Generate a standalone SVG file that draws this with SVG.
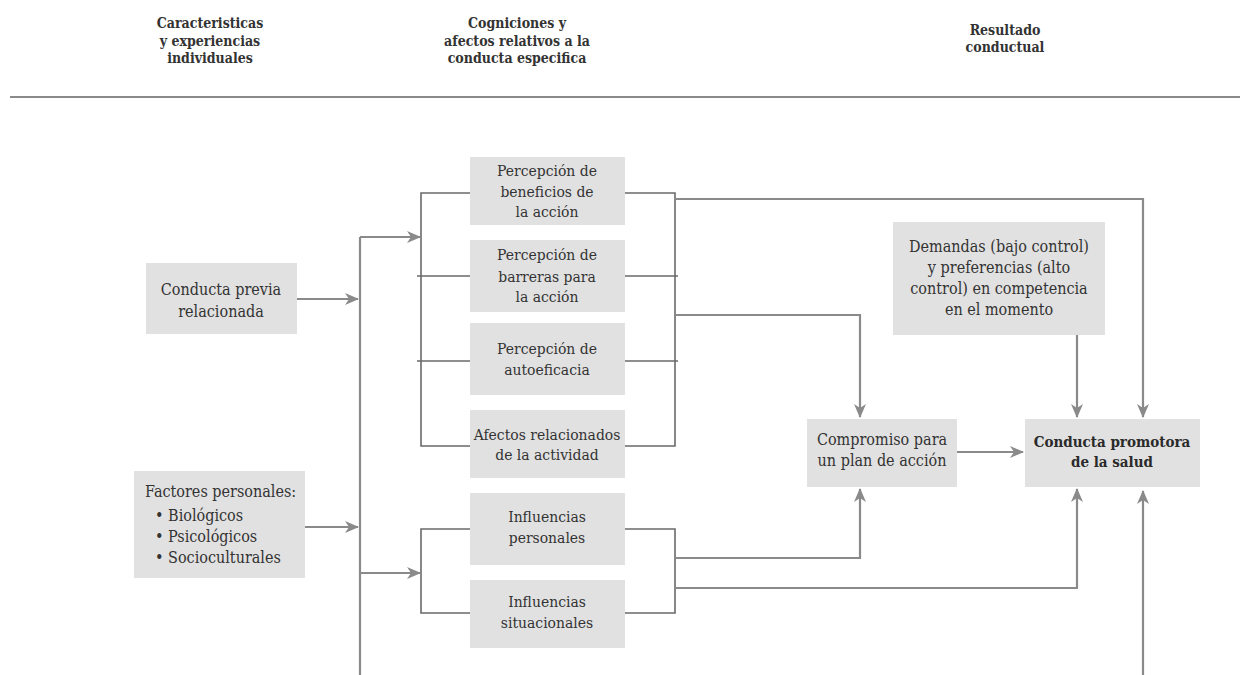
<svg xmlns="http://www.w3.org/2000/svg" width="1240" height="675" viewBox="0 0 1240 675">
<style>
.bg{fill:#ffffff}
.box{fill:#e1e1e1}
.t{font-family:'DejaVu Serif Condensed','DejaVu Serif','Liberation Serif',serif;font-stretch:condensed;font-size:16px;fill:#333333;text-anchor:middle}
.m{font-size:15.5px}
.tl{text-anchor:start}
.b{font-weight:bold;font-size:15px;fill:#2a2a2a}
.h{font-family:'DejaVu Serif Condensed','DejaVu Serif','Liberation Serif',serif;font-stretch:condensed;font-weight:bold;font-size:14px;fill:#333;text-anchor:middle}
.br{fill:none;stroke:#6a6a6a;stroke-width:1.6}
.ln{fill:none;stroke:#8a8a8a;stroke-width:2.2}
.ar{fill:none;stroke:#8a8a8a;stroke-width:2.2;marker-end:url(#ah)}
</style>
<defs>
<marker id="ah" viewBox="0 0 14 12" refX="13" refY="6" markerWidth="14" markerHeight="12" markerUnits="userSpaceOnUse" orient="auto">
<path d="M0,0 L14,6 L0,12 L4,6 z" fill="#8a8a8a"/>
</marker>
</defs>
<rect class="bg" x="0" y="0" width="1240" height="675"/>

<g id="header">
<text class="h" x="210" y="28">Caracteristicas</text>
<text class="h" x="210" y="46">y experiencias</text>
<text class="h" x="210" y="63">individuales</text>
<text class="h" x="517" y="28">Cogniciones y</text>
<text class="h" x="517" y="46">afectos relativos a la</text>
<text class="h" x="517" y="63">conducta especifica</text>
<text class="h" x="1005" y="35">Resultado</text>
<text class="h" x="1005" y="52">conductual</text>
<line x1="10" y1="97" x2="1240" y2="97" stroke="#8a8a8a" stroke-width="2"/>
</g>

<g id="connectors">
<path class="br" d="M470,193 H421 V446 H470 M417,276 H470 M417,361 H470"/>
<path class="br" d="M625,193 H675 V446 H625 M625,276 H678 M625,361 H678"/>
<path class="br" d="M470,529 H421 V613 H470"/>
<path class="br" d="M625,529 H675 V613 H625"/>
<path class="ln" d="M360,237 V675"/>
<path class="ar" d="M297,299 H358"/>
<path class="ar" d="M305,527 H358"/>
<path class="ar" d="M360,237 H420"/>
<path class="ar" d="M360,573 H420"/>
<path class="ar" d="M675,199 H1143 V417"/>
<path class="ar" d="M675,315 H860 V417"/>
<path class="ar" d="M1077,335 V417"/>
<path class="ar" d="M675,558 H860 V489"/>
<path class="ar" d="M675,588 H1077 V489"/>
<path class="ar" d="M1143,675 V491"/>
<path class="ar" d="M957,452 H1023"/>
</g>

<g id="n-conducta-previa">
<rect class="box" x="146" y="263" width="151" height="71"/>
<text class="t" x="221" y="295">Conducta previa</text>
<text class="t" x="221" y="317">relacionada</text>
</g>

<g id="n-factores">
<rect class="box" x="134" y="471" width="171" height="107"/>
<text class="t tl" x="145" y="497">Factores personales:</text>
<text class="t tl" x="155" y="521">• Biológicos</text>
<text class="t tl" x="155" y="542">• Psicológicos</text>
<text class="t tl" x="155" y="563">• Socioculturales</text>
</g>

<g id="n-beneficios">
<rect class="box" x="470" y="157" width="155" height="68"/>
<text class="t m" x="547" y="176">Percepción de</text>
<text class="t m" x="547" y="197">beneficios de</text>
<text class="t m" x="547" y="217">la acción</text>
</g>

<g id="n-barreras">
<rect class="box" x="470" y="240" width="155" height="72"/>
<text class="t m" x="547" y="260">Percepción de</text>
<text class="t m" x="547" y="282">barreras para</text>
<text class="t m" x="547" y="302">la acción</text>
</g>

<g id="n-autoeficacia">
<rect class="box" x="470" y="323" width="155" height="72"/>
<text class="t m" x="547" y="354">Percepción de</text>
<text class="t m" x="547" y="375">autoeficacia</text>
</g>

<g id="n-afectos">
<rect class="box" x="470" y="410" width="155" height="68"/>
<text class="t m" x="547" y="440">Afectos relacionados</text>
<text class="t m" x="547" y="460">de la actividad</text>
</g>

<g id="n-inf-personales">
<rect class="box" x="470" y="493" width="155" height="72"/>
<text class="t m" x="547" y="522">Influencias</text>
<text class="t m" x="547" y="543">personales</text>
</g>

<g id="n-inf-situacionales">
<rect class="box" x="470" y="580" width="155" height="68"/>
<text class="t m" x="547" y="607">Influencias</text>
<text class="t m" x="547" y="628">situacionales</text>
</g>

<g id="n-demandas">
<rect class="box" x="893" y="222" width="212" height="113"/>
<text class="t" x="999" y="252">Demandas (bajo control)</text>
<text class="t" x="999" y="273">y preferencias (alto</text>
<text class="t" x="999" y="294">control) en competencia</text>
<text class="t" x="999" y="315">en el momento</text>
</g>

<g id="n-compromiso">
<rect class="box" x="807" y="419" width="150" height="68"/>
<text class="t" x="882" y="445">Compromiso para</text>
<text class="t" x="882" y="466">un plan de acción</text>
</g>

<g id="n-conducta-promotora">
<rect class="box" x="1025" y="419" width="175" height="68"/>
<text class="t b" x="1112" y="447">Conducta promotora</text>
<text class="t b" x="1112" y="467">de la salud</text>
</g>
</svg>
